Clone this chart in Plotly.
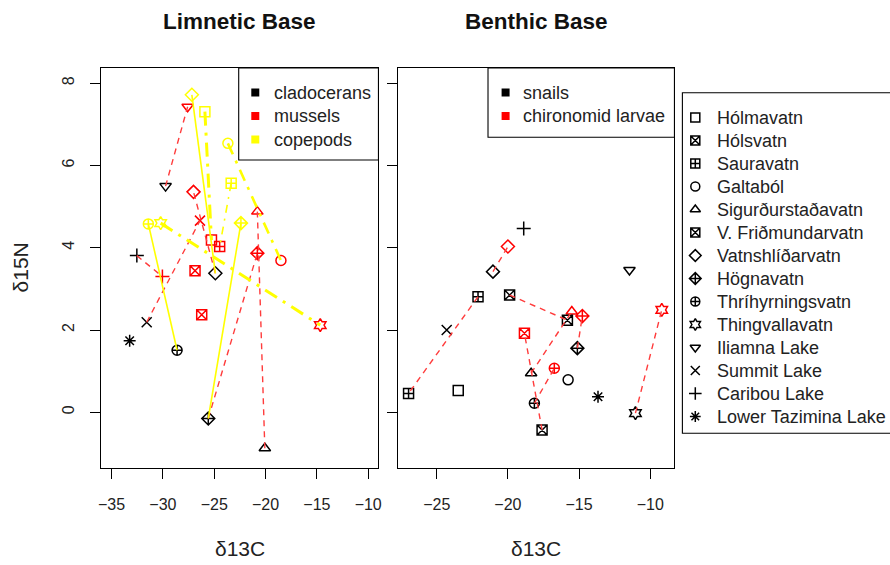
import plotly.graph_objects as go

# ---------------- data ----------------
LAKES = ["Hólmavatn", "Hólsvatn", "Sauravatn", "Galtaból", "Sigurðurstaðavatn",
         "V. Friðmundarvatn", "Vatnshlíðarvatn", "Högnavatn", "Thríhyrningsvatn",
         "Thingvallavatn", "Iliamna Lake", "Summit Lake", "Caribou Lake",
         "Lower Tazimina Lake"]
LIM_GROUPS = ["cladocerans", "mussels", "copepods"]
BEN_GROUPS = ["snails", "chironomid larvae"]

# Limnetic base panel
clad_lakes = ["Iliamna Lake", "Lower Tazimina Lake", "Summit Lake", "Caribou Lake",
              "Thríhyrningsvatn", "Vatnshlíðarvatn", "Högnavatn", "Sigurðurstaðavatn"]
clad_x = [-29.74, -33.24, -31.58, -32.54, -28.62, -24.89, -25.58, -20.07]
clad_y = [5.50, 1.74, 2.19, 3.81, 1.51, 3.38, -0.15, -0.875]

mussel_lakes = ["Iliamna Lake", "Vatnshlíðarvatn", "Summit Lake", "Caribou Lake",
                "Högnavatn", "Sigurðurstaðavatn", "Galtaból", "Thingvallavatn",
                "Hólmavatn", "Sauravatn", "V. Friðmundarvatn", "Hólsvatn"]
mussel_x = [-27.59, -27.02, -26.39, -30.05, -20.80, -20.80, -18.50, -14.67,
            -25.27, -24.47, -26.87, -26.22]
mussel_y = [7.43, 5.36, 4.66, 3.30, 3.87, 4.88, 3.69, 2.12, 4.19, 4.03, 3.44, 2.37]

cope_lakes = ["Vatnshlíðarvatn", "Hólmavatn", "Galtaból", "Sauravatn",
              "Thríhyrningsvatn", "Thingvallavatn", "Högnavatn"]
cope_x = [-27.18, -25.91, -23.67, -23.35, -31.42, -30.22, -22.40]
cope_y = [7.72, 7.31, 6.54, 5.57, 4.58, 4.60, 4.60]

# Benthic base panel
snail_lakes = ["Hólmavatn", "Sauravatn", "Hólsvatn", "V. Friðmundarvatn", "Galtaból",
               "Sigurðurstaðavatn", "Vatnshlíðarvatn", "Högnavatn", "Thríhyrningsvatn",
               "Thingvallavatn", "Iliamna Lake", "Summit Lake", "Caribou Lake",
               "Lower Tazimina Lake"]
snail_x = [-23.49, -22.10, -17.60, -19.88, -15.77, -18.37, -21.05, -15.12, -18.14,
           -11.04, -11.46, -24.30, -18.89, -13.67]
snail_y = [0.53, 2.81, -0.43, 2.85, 0.79, 0.95, 3.42, 1.56, 0.22, -0.02, 3.46, 2.00,
           4.47, 0.38]

chiro_lakes = ["Hólsvatn", "Sigurðurstaðavatn", "Vatnshlíðarvatn", "Högnavatn",
               "Thríhyrningsvatn", "Thingvallavatn", "Sauravatn", "V. Friðmundarvatn"]
chiro_x = [-18.84, -15.51, -20.00, -14.77, -16.74, -9.19, -26.98, -15.82]
chiro_y = [1.92, 2.45, 4.03, 2.34, 1.07, 2.49, 0.46, 2.24]

# connections (lake, from group, to group)
lim_links = [("Iliamna Lake", "cladocerans", "mussels"),
             ("Summit Lake", "cladocerans", "mussels"),
             ("Caribou Lake", "cladocerans", "mussels"),
             ("Vatnshlíðarvatn", "cladocerans", "mussels"),
             ("Högnavatn", "cladocerans", "mussels"),
             ("Sigurðurstaðavatn", "cladocerans", "mussels"),
             ("Vatnshlíðarvatn", "cladocerans", "copepods"),
             ("Thríhyrningsvatn", "cladocerans", "copepods"),
             ("Högnavatn", "cladocerans", "copepods"),
             ("Hólmavatn", "copepods", "mussels"),
             ("Galtaból", "copepods", "mussels"),
             ("Sauravatn", "copepods", "mussels"),
             ("Thingvallavatn", "copepods", "mussels")]
ben_links = [(l, "snails", "chironomid larvae") for l in chiro_lakes]

# ---------------- styles ----------------
W, H = 890, 565
SYM = {"Hólmavatn": "square-open", "Hólsvatn": "square-x-open",
       "Sauravatn": "square-cross-open", "Galtaból": "circle-open",
       "Sigurðurstaðavatn": "triangle-up-open", "V. Friðmundarvatn": "square-x-open",
       "Vatnshlíðarvatn": "diamond-open", "Högnavatn": "diamond-cross-open",
       "Thríhyrningsvatn": "circle-cross-open", "Thingvallavatn": "hexagram-open",
       "Iliamna Lake": "triangle-down-open", "Summit Lake": "x-thin-open",
       "Caribou Lake": "cross-thin-open", "Lower Tazimina Lake": "asterisk-open"}
COL = {"cladocerans": "#000000", "mussels": "#FF0000", "copepods": "#FFFF00",
       "snails": "#000000", "chironomid larvae": "#FF0000"}
DRAWN_BLACK = {"Sauravatn", "V. Friðmundarvatn"}  # benthic chironomid marks that appear black
YEL_DASH = {"Vatnshlíðarvatn": ("solid", 1.6), "Thríhyrningsvatn": ("solid", 1.6),
            "Högnavatn": ("solid", 1.6), "Hólmavatn": ("14px,7px,3px,7px", 3),
            "Galtaból": ("12px,7px,3px,7px", 2.6), "Sauravatn": ("8px,6px,2px,6px", 1.6),
            "Thingvallavatn": ("14px,7px,3px,7px", 3)}
FONT = "Liberation Sans, Arial, Helvetica, sans-serif"
MSIZE = 10
MLW = 1.5

def px_x(p):
    return p / W

def px_y(p):
    return 1 - p / H

LX = [99, 378]
RX = [398, 676]
PY = [67.5, 467.7]

groups = {
    "x": {"cladocerans": (clad_lakes, clad_x, clad_y),
          "mussels": (mussel_lakes, mussel_x, mussel_y),
          "copepods": (cope_lakes, cope_x, cope_y)},
    "x2": {"snails": (snail_lakes, snail_x, snail_y),
           "chironomid larvae": (chiro_lakes, chiro_x, chiro_y)},
}

fig = go.Figure()

# markers
for xa, gdict in groups.items():
    for g, (lakes, xs, ys) in gdict.items():
        cols = []
        for lk in lakes:
            c = COL[g]
            if xa == "x2" and g == "chironomid larvae" and lk in DRAWN_BLACK:
                c = "#000000"
            cols.append(c)
        fig.add_trace(go.Scatter(
            x=xs, y=ys, mode="markers", xaxis=xa, yaxis="y", showlegend=False,
            hoverinfo="text", text=[f"{lk}: {g}" for lk in lakes],
            marker=dict(symbol=[SYM[lk] for lk in lakes], size=MSIZE, color=cols,
                        line=dict(width=MLW, color=cols))))

def lookup(gdict, g, lake):
    lakes, xs, ys = gdict[g]
    i = lakes.index(lake)
    return xs[i], ys[i]

for xa, links in (("x", lim_links), ("x2", ben_links)):
    for lake, g1, g2 in links:
        x1, y1 = lookup(groups[xa], g1, lake)
        x2, y2 = lookup(groups[xa], g2, lake)
        if "copepods" in (g1, g2):
            dash, wd = YEL_DASH[lake]
            line = dict(color="#FFFF00", width=wd, dash=dash)
        else:
            line = dict(color="rgb(255,60,60)", width=1.4, dash="6px,5px")
        fig.add_trace(go.Scatter(x=[x1, x2], y=[y1, y2], mode="lines", xaxis=xa,
                                 yaxis="y", showlegend=False, hoverinfo="skip",
                                 line=line))

# y-axis ticks on the right panel (no labels)
fig.add_trace(go.Scatter(x=[None], y=[None], xaxis="x2", yaxis="y2", showlegend=False))

# ---------------- legends (drawn on a hidden pixel-unit overlay axis) ----------------
LEG_FONT = dict(family=FONT, size=18, color="#222")
legend_specs = [
    # entries, marker x, text x, first row y, row step, kind
    (LIM_GROUPS, 254, 270.5, 92.5, 23.5, "group"),
    (BEN_GROUPS, 506, 521.5, 92.5, 23.5, "group"),
    (LAKES, 697, 716.5, 117.5, 23.0, "lake"),
]
ann = []
for entries, mx, tx, y0, dy, kind in legend_specs:
    ys = [y0 + i * dy for i in range(len(entries))]
    if kind == "group":
        fig.add_trace(go.Scatter(
            x=[mx] * len(entries), y=ys, mode="markers", xaxis="x3", yaxis="y3",
            showlegend=False, hoverinfo="skip",
            marker=dict(symbol="square", size=8, color=[COL[e] for e in entries])))
    else:
        fig.add_trace(go.Scatter(
            x=[mx] * len(entries), y=ys, mode="markers", xaxis="x3", yaxis="y3",
            showlegend=False, hoverinfo="skip",
            marker=dict(symbol=[SYM[e] for e in entries], size=9, color="#000",
                        line=dict(width=MLW, color="#000"))))
    for e, y in zip(entries, ys):
        ann.append(dict(text=e, x=tx, y=y, xref="x3", yref="y3", showarrow=False,
                        xanchor="left", yanchor="middle", font=LEG_FONT))

axis_common = dict(showgrid=False, zeroline=False, showline=True, linecolor="#000",
                   linewidth=1.2, mirror=True, ticks="outside", ticklen=10,
                   tickwidth=1.2, tickcolor="#000",
                   tickfont=dict(family=FONT, size=16, color="#222"))

fig.update_layout(
    width=W, height=H, margin=dict(l=0, r=0, t=0, b=0),
    paper_bgcolor="white", plot_bgcolor="rgba(0,0,0,0)", showlegend=False,
    xaxis=dict(domain=[px_x(LX[0]), px_x(LX[1])], range=[-36, -9],
               tickvals=[-35, -30, -25, -20, -15, -10],
               ticktext=["\u221235", "\u221230", "\u221225", "\u221220", "\u221215", "\u221210"],
               ticklabelstandoff=12, anchor="y", **axis_common),
    xaxis2=dict(domain=[px_x(RX[0]), px_x(RX[1])], range=[-27.7, -8.3],
                tickvals=[-25, -20, -15, -10],
                ticktext=["\u221225", "\u221220", "\u221215", "\u221210"],
                ticklabelstandoff=12, anchor="y", **axis_common),
    yaxis=dict(domain=[px_y(PY[1]), px_y(PY[0])], range=[-1.347, 8.384],
               tickvals=[0, 2, 4, 6, 8], tickangle=-90, ticklabelstandoff=10,
               anchor="x", **axis_common),
    yaxis2=dict(domain=[px_y(PY[1]), px_y(PY[0])], range=[-1.347, 8.384],
                tickvals=[0, 2, 4, 6, 8], showticklabels=False,
                anchor="x2", overlaying="y", **axis_common),
    xaxis3=dict(domain=[0, 1], range=[0, W], visible=False, anchor="y3", fixedrange=True),
    yaxis3=dict(domain=[0, 1], range=[H, 0], visible=False, anchor="x3", fixedrange=True),
)

# legend boxes
box_line = dict(color="#000", width=1.1)
for (x0, y0, x1, y1) in [(237.3, 68, 378, 160), (488.3, 68, 676, 137.3),
                         (684, 92.7, 900, 433.3)]:
    fig.add_shape(type="rect", xref="paper", yref="paper", x0=px_x(x0), x1=px_x(x1),
                  y0=px_y(y1), y1=px_y(y0), line=box_line, fillcolor="rgba(0,0,0,0)")

for text, x in (("Limnetic Base", sum(LX) / 2), ("Benthic Base", sum(RX) / 2)):
    ann.append(dict(text=f"<b>{text}</b>", x=px_x(x), y=px_y(22), xref="paper",
                    yref="paper", showarrow=False, xanchor="center", yanchor="middle",
                    font=dict(family=FONT, size=22.5, color="#111")))
for x in (sum(LX) / 2, sum(RX) / 2):
    ann.append(dict(text="\u03b413C", x=px_x(x), y=px_y(548), xref="paper", yref="paper",
                    showarrow=False, xanchor="center", yanchor="middle",
                    font=dict(family=FONT, size=21, color="#222")))
ann.append(dict(text="\u03b415N", x=px_x(18), y=px_y(sum(PY) / 2), xref="paper",
                yref="paper", showarrow=False, textangle=-90, xanchor="center",
                yanchor="middle", font=dict(family=FONT, size=21, color="#222")))
fig.update_layout(annotations=ann)

fig.write_html("out.html")
